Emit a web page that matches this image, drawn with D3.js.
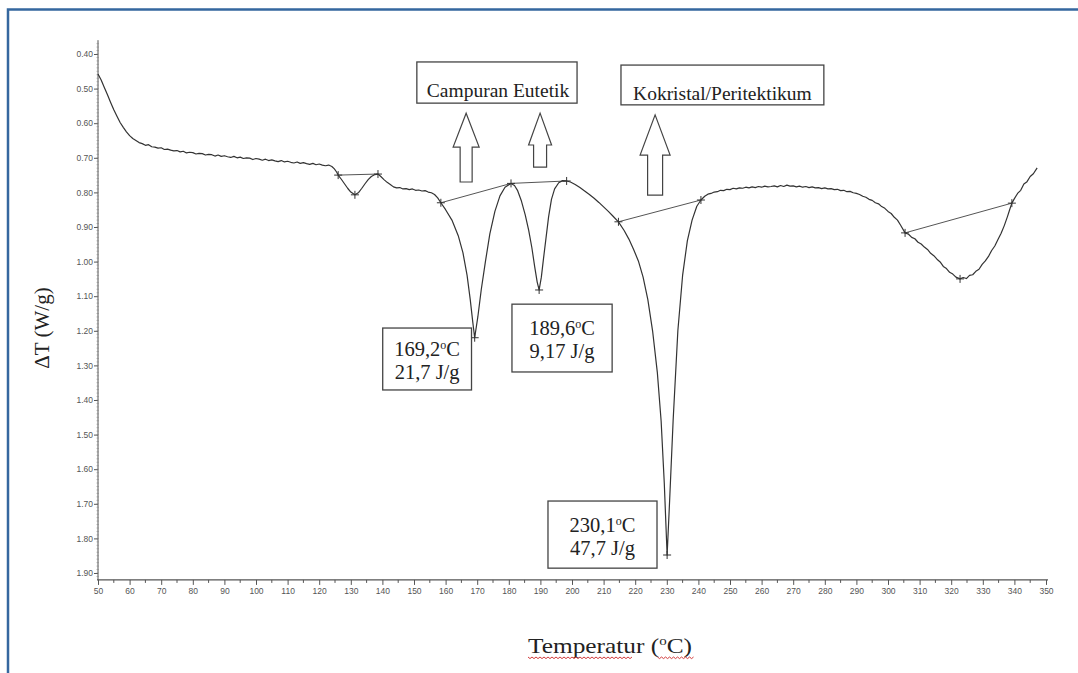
<!DOCTYPE html>
<html>
<head>
<meta charset="utf-8">
<script src="https://cdn.jsdelivr.net/npm/d3@7"></script>
<style>
  html, body { margin: 0; padding: 0; background: #fff; }
  svg { display: block; }
</style>
</head>
<body>
<script>
// DSC thermogram: temperature (°C) vs. heat flow ΔT (W/g), endotherms pointing down.

// Recorded trace as [temperature °C, ΔT W/g]
const dscTrace = [
  [50.0, 0.458], [51.0, 0.475], [52.0, 0.497], [53.0, 0.518], [54.0, 0.540], [55.0, 0.561], [56.0, 0.580],
  [57.0, 0.598], [58.0, 0.612], [59.0, 0.625], [60.0, 0.636], [61.0, 0.644], [62.0, 0.650], [63.0, 0.656],
  [64.0, 0.659], [65.0, 0.664], [66.0, 0.662], [67.0, 0.668], [68.0, 0.669], [69.0, 0.672], [70.0, 0.671],
  [71.0, 0.676], [72.0, 0.675], [73.0, 0.678], [74.0, 0.680], [75.0, 0.679], [76.0, 0.683], [77.0, 0.681],
  [78.0, 0.686], [79.0, 0.684], [80.0, 0.685], [81.0, 0.689], [82.0, 0.687], [83.0, 0.688], [84.0, 0.692],
  [85.0, 0.690], [86.0, 0.691], [87.0, 0.695], [88.0, 0.692], [89.0, 0.696], [90.0, 0.694], [91.0, 0.697],
  [92.0, 0.699], [93.0, 0.696], [94.0, 0.700], [95.0, 0.698], [96.0, 0.702], [97.0, 0.700], [98.0, 0.701],
  [99.0, 0.705], [100.0, 0.702], [101.0, 0.704], [102.0, 0.707], [103.0, 0.704], [104.0, 0.708], [105.0, 0.706],
  [106.0, 0.709], [107.0, 0.711], [108.0, 0.708], [109.0, 0.712], [110.0, 0.710], [111.0, 0.713], [112.0, 0.715],
  [113.0, 0.712], [114.0, 0.716], [115.0, 0.714], [116.0, 0.717], [117.0, 0.719], [118.0, 0.716], [119.0, 0.720],
  [120.0, 0.718], [121.0, 0.721], [122.0, 0.723], [123.0, 0.721], [124.0, 0.725], [124.8, 0.732], [125.5, 0.741],
  [126.0, 0.750], [127.0, 0.762], [128.0, 0.775], [129.0, 0.788], [130.0, 0.799], [131.3, 0.807], [132.5, 0.800],
  [133.5, 0.788], [134.5, 0.775], [135.5, 0.763], [136.5, 0.754], [137.5, 0.749], [138.6, 0.747], [139.5, 0.754],
  [140.5, 0.763], [141.5, 0.771], [142.5, 0.777], [143.5, 0.784], [144.5, 0.787], [145.5, 0.786], [146.5, 0.790],
  [147.5, 0.789], [148.5, 0.792], [149.5, 0.790], [150.5, 0.794], [151.5, 0.793], [152.5, 0.796], [153.5, 0.795],
  [154.5, 0.799], [155.5, 0.801], [156.5, 0.806], [157.5, 0.816], [158.5, 0.830], [160.0, 0.850], [162.0, 0.880],
  [164.0, 0.925], [165.5, 0.975], [166.8, 1.040], [167.8, 1.110], [168.6, 1.175], [169.2, 1.220], [170.2, 1.160],
  [171.3, 1.080], [172.6, 1.000], [174.0, 0.920], [175.6, 0.855], [177.2, 0.810], [178.8, 0.785], [180.7, 0.774],
  [181.8, 0.780], [182.8, 0.795], [184.0, 0.825], [185.2, 0.865], [186.3, 0.910], [187.3, 0.960], [188.2, 1.015],
  [189.0, 1.060], [189.6, 1.082], [190.3, 1.045], [191.0, 0.990], [191.8, 0.930], [192.6, 0.870], [193.5, 0.820],
  [194.5, 0.790], [195.8, 0.772], [197.0, 0.766], [198.3, 0.767], [199.5, 0.770], [201.0, 0.777], [202.5, 0.786],
  [204.0, 0.796], [205.5, 0.806], [207.0, 0.817], [208.5, 0.829], [210.0, 0.842], [211.5, 0.855], [213.0, 0.869],
  [214.7, 0.885], [216.5, 0.910], [218.0, 0.935], [219.5, 0.965], [221.0, 0.998], [222.5, 1.045], [224.0, 1.110],
  [225.5, 1.200], [227.0, 1.320], [228.2, 1.460], [229.2, 1.640], [230.1, 1.848], [230.9, 1.690], [232.0, 1.460],
  [233.5, 1.200], [235.0, 1.040], [236.5, 0.940], [238.0, 0.880], [239.5, 0.840], [240.8, 0.822], [242.0, 0.811],
  [243.0, 0.805], [244.0, 0.803], [245.0, 0.799], [246.0, 0.798], [247.0, 0.794], [248.0, 0.795], [249.0, 0.791],
  [250.0, 0.792], [251.0, 0.788], [252.0, 0.790], [253.0, 0.787], [254.0, 0.788], [255.0, 0.785], [256.0, 0.787],
  [257.0, 0.784], [258.0, 0.786], [259.0, 0.783], [260.0, 0.785], [261.0, 0.782], [262.0, 0.784], [263.0, 0.783],
  [264.0, 0.781], [265.0, 0.784], [266.0, 0.780], [267.0, 0.783], [268.0, 0.779], [269.0, 0.782], [270.0, 0.781],
  [271.0, 0.784], [272.0, 0.782], [273.0, 0.785], [274.0, 0.783], [275.0, 0.786], [276.0, 0.784], [277.0, 0.787],
  [278.0, 0.786], [279.0, 0.789], [280.0, 0.787], [281.0, 0.790], [282.0, 0.789], [283.0, 0.792], [284.0, 0.791],
  [285.0, 0.795], [286.0, 0.794], [287.0, 0.798], [288.0, 0.797], [289.0, 0.801], [290.0, 0.803], [291.0, 0.806],
  [292.0, 0.811], [293.0, 0.814], [294.0, 0.820], [295.0, 0.823], [296.0, 0.830], [297.0, 0.833], [298.0, 0.841],
  [299.0, 0.846], [300.0, 0.855], [301.0, 0.861], [302.0, 0.872], [303.0, 0.880], [304.0, 0.895], [305.4, 0.917],
  [306.5, 0.921], [307.5, 0.930], [308.5, 0.934], [309.5, 0.944], [310.5, 0.949], [311.5, 0.958], [312.5, 0.965],
  [313.5, 0.976], [314.5, 0.983], [315.5, 0.993], [316.5, 1.001], [317.5, 1.014], [318.5, 1.020], [319.5, 1.031],
  [320.5, 1.036], [321.5, 1.045], [322.8, 1.050], [323.8, 1.046], [324.8, 1.049], [325.8, 1.040], [326.8, 1.038],
  [327.8, 1.028], [328.8, 1.022], [329.8, 1.008], [330.8, 0.998], [331.8, 0.985], [332.8, 0.968], [333.8, 0.955],
  [334.8, 0.936], [335.8, 0.918], [336.8, 0.896], [337.8, 0.870], [338.5, 0.850], [339.2, 0.831], [340.0, 0.818],
  [341.0, 0.803], [342.0, 0.794], [343.0, 0.776], [344.0, 0.769], [345.0, 0.754], [346.0, 0.746], [347.2, 0.729]
];

// Integration baselines drawn under each event: [T, ΔT] vertices
const baselineSegments = [
  [[126.0, 0.750], [138.6, 0.747]],
  [[158.5, 0.830], [180.7, 0.774], [198.3, 0.767]],
  [[214.7, 0.885], [240.8, 0.822]],
  [[305.4, 0.917], [339.2, 0.831]]
];

// Analysis cursors ("+") placed by the instrument software
const cursorTemps = [126.0, 131.3, 138.6, 158.5, 169.2, 180.7, 189.6, 198.3, 214.7, 230.1, 240.8, 305.4, 322.8, 339.2];
const cursorFlows = [0.750, 0.807, 0.747, 0.830, 1.220, 0.774, 1.082, 0.767, 0.885, 1.848, 0.822, 0.917, 1.050, 0.831];

// Peak annotations
const peakTemps = [169.2, 189.6, 230.1];
const peakEnthalpy = ["21,7", "9,17", "47,7"];

// Axis ticks
const xTicks = d3.range(50, 351, 10);
const yTicks = [0.40, 0.50, 0.60, 0.70, 0.80, 0.90, 1.00, 1.10, 1.20, 1.30, 1.40, 1.50, 1.60, 1.70, 1.80, 1.90];

const W = 1078, H = 673;
const svg = d3.select("body").append("svg").attr("width", W).attr("height", H);

// Page frame
svg.append("rect")
  .attr("x", 8).attr("y", 9.5).attr("width", W + 40).attr("height", H + 40)
  .attr("fill", "none").attr("stroke", "#35679f").attr("stroke-width", 2.5);

const x = d3.scaleLinear().domain([50, 350]).range([98, 1046]);
const y = d3.scaleLinear().domain([0.40, 1.90]).range([54, 573]);
const yTop = 0.36, yBottom = 1.92;

const axisColor = "#555";
const tickFont = "'Liberation Sans', Arial, sans-serif";

// Y axis
const gy = svg.append("g").attr("transform", `translate(${x(50)},0)`);
gy.call(d3.axisLeft(y).tickValues(yTicks).tickSize(4).tickPadding(1).tickFormat(d3.format(".2f")));
gy.select(".domain").remove();
gy.append("line").attr("x1", 0).attr("x2", 0).attr("y1", y(yTop)).attr("y2", y(yBottom))
  .attr("stroke", axisColor).attr("stroke-width", 1);
gy.selectAll(".minor").data(d3.range(37, 192, 1).map(d => d / 100)).enter().append("line")
  .attr("x1", -1.5).attr("x2", 1).attr("y1", d => y(d)).attr("y2", d => y(d))
  .attr("stroke", "#888").attr("stroke-width", 0.6);
gy.selectAll(".tick line").attr("stroke", axisColor);
gy.selectAll(".tick text").attr("fill", "#555").attr("font-size", 8.5).attr("font-family", tickFont);

// X axis
const gx = svg.append("g").attr("transform", `translate(0,${y(yBottom)})`);
gx.call(d3.axisBottom(x).tickValues(xTicks).tickSize(5).tickPadding(3).tickFormat(d3.format("d")));
gx.select(".domain").remove();
gx.append("line").attr("x1", x(50) - 1).attr("x2", x(350) + 2).attr("y1", 0).attr("y2", 0)
  .attr("stroke", axisColor).attr("stroke-width", 1.2);
gx.selectAll(".minor").data(d3.range(55, 350, 10)).enter().append("line")
  .attr("x1", d => x(d)).attr("x2", d => x(d)).attr("y1", 0).attr("y2", 3)
  .attr("stroke", axisColor);
gx.selectAll(".tick line").attr("stroke", axisColor);
gx.selectAll(".tick text").attr("fill", "#555").attr("font-size", 8.5).attr("font-family", tickFont);

// Baselines
const line = d3.line().x(d => x(d[0])).y(d => y(d[1]));
svg.append("g").selectAll("path").data(baselineSegments).enter().append("path")
  .attr("d", line).attr("fill", "none").attr("stroke", "#555").attr("stroke-width", 1);

// Thermogram trace
svg.append("path").datum(dscTrace)
  .attr("d", line).attr("fill", "none").attr("stroke", "#333").attr("stroke-width", 1.2)
  .attr("stroke-linejoin", "round");

// Cursors
const cur = svg.append("g").attr("stroke", "#333").attr("stroke-width", 1);
cursorTemps.forEach((t, i) => {
  const cx = x(t), cy = y(cursorFlows[i]);
  cur.append("line").attr("x1", cx - 4).attr("x2", cx + 4).attr("y1", cy).attr("y2", cy);
  cur.append("line").attr("x1", cx).attr("x2", cx).attr("y1", cy - 4).attr("y2", cy + 4);
});

const serif = "'Liberation Serif', 'Times New Roman', serif";

// Boxed labels anchored in data coordinates: [T0, T1, v0, v1]
function box(t0, t1, v0, v1) {
  svg.append("rect")
    .attr("x", x(t0)).attr("y", y(v0)).attr("width", x(t1) - x(t0)).attr("height", y(v1) - y(v0))
    .attr("fill", "#fff").attr("stroke", "#444").attr("stroke-width", 1.3);
}

// Hollow block arrows pointing up
function arrow(t, vTip, vHead, vBase, headW, shaftW) {
  const cx = x(t), yt = y(vTip), yh = y(vHead), yb = y(vBase);
  const pts = [
    [cx, yt], [cx + headW / 2, yh], [cx + shaftW / 2, yh], [cx + shaftW / 2, yb],
    [cx - shaftW / 2, yb], [cx - shaftW / 2, yh], [cx - headW / 2, yh]
  ];
  svg.append("path").attr("d", "M" + pts.join("L") + "Z")
    .attr("fill", "#fff").attr("stroke", "#444").attr("stroke-width", 1.2);
}

box(150.9, 201.6, 0.423, 0.542);
svg.append("text").attr("x", x(176.6)).attr("y", y(0.523)).attr("text-anchor", "middle")
  .attr("font-family", serif).attr("font-size", 19.5).attr("fill", "#222").text("Campuran Eutetik");

box(215.5, 279.7, 0.432, 0.547);
svg.append("text").attr("x", x(247.6)).attr("y", y(0.532)).attr("text-anchor", "middle")
  .attr("font-family", serif).attr("font-size", 19.5).attr("fill", "#222").text("Kokristal/Peritektikum");

arrow(166.5, 0.571, 0.669, 0.770, 26, 12);
arrow(189.9, 0.571, 0.663, 0.727, 23, 13);
arrow(226.3, 0.576, 0.692, 0.808, 30, 15);

// Peak value boxes
const peakBoxes = [
  [140.1, 168.2, 1.192, 1.371],
  [181.0, 212.7, 1.123, 1.319],
  [192.4, 226.9, 1.692, 1.886]
];
peakBoxes.forEach((b, i) => {
  box(b[0], b[1], b[2], b[3]);
  const cx = (x(b[0]) + x(b[1])) / 2;
  const midY = (y(b[2]) + y(b[3])) / 2;
  const t = svg.append("text").attr("font-family", serif).attr("font-size", 20.5).attr("fill", "#222")
    .attr("text-anchor", "middle");
  const l1 = t.append("tspan").attr("x", cx).attr("y", midY - 3);
  l1.append("tspan").text(peakTemps[i].toFixed(1).replace(".", ","));
  l1.append("tspan").attr("font-size", 12).attr("dy", -7).text("o");
  l1.append("tspan").attr("dy", 7).text("C");
  t.append("tspan").attr("x", cx).attr("y", midY + 20).text(peakEnthalpy[i] + " J/g");
});

// Axis titles
svg.append("text")
  .attr("transform", `translate(49,${(y(yTop) + y(yBottom)) / 2 + 18}) rotate(-90)`)
  .attr("text-anchor", "middle").attr("font-family", serif).attr("font-size", 21).attr("fill", "#222")
  .text("ΔT (W/g)");

const xt = svg.append("text").attr("x", 610).attr("y", 653).attr("text-anchor", "middle")
  .attr("font-family", serif).attr("font-size", 22).attr("fill", "#222")
  .attr("textLength", 164).attr("lengthAdjust", "spacingAndGlyphs");
xt.append("tspan").text("Temperatur (");
xt.append("tspan").attr("font-size", 13).attr("dy", -8).text("o");
xt.append("tspan").attr("dy", 8).text("C)");

// Spell-check squiggles under the title words
function squiggle(x0, x1, yy) {
  let d = `M${x0},${yy}`;
  for (let xx = x0, k = 0; xx < x1; xx += 2, k++) d += `L${xx + 2},${yy + (k % 2 ? 0 : 1.6)}`;
  svg.append("path").attr("d", d).attr("fill", "none").attr("stroke", "#d23b3b").attr("stroke-width", 1);
}
const bb = xt.node().getBBox();
squiggle(bb.x, bb.x + bb.width * 0.63, 657);
squiggle(bb.x + bb.width * 0.79, bb.x + bb.width, 657);
</script>
</body>
</html>
